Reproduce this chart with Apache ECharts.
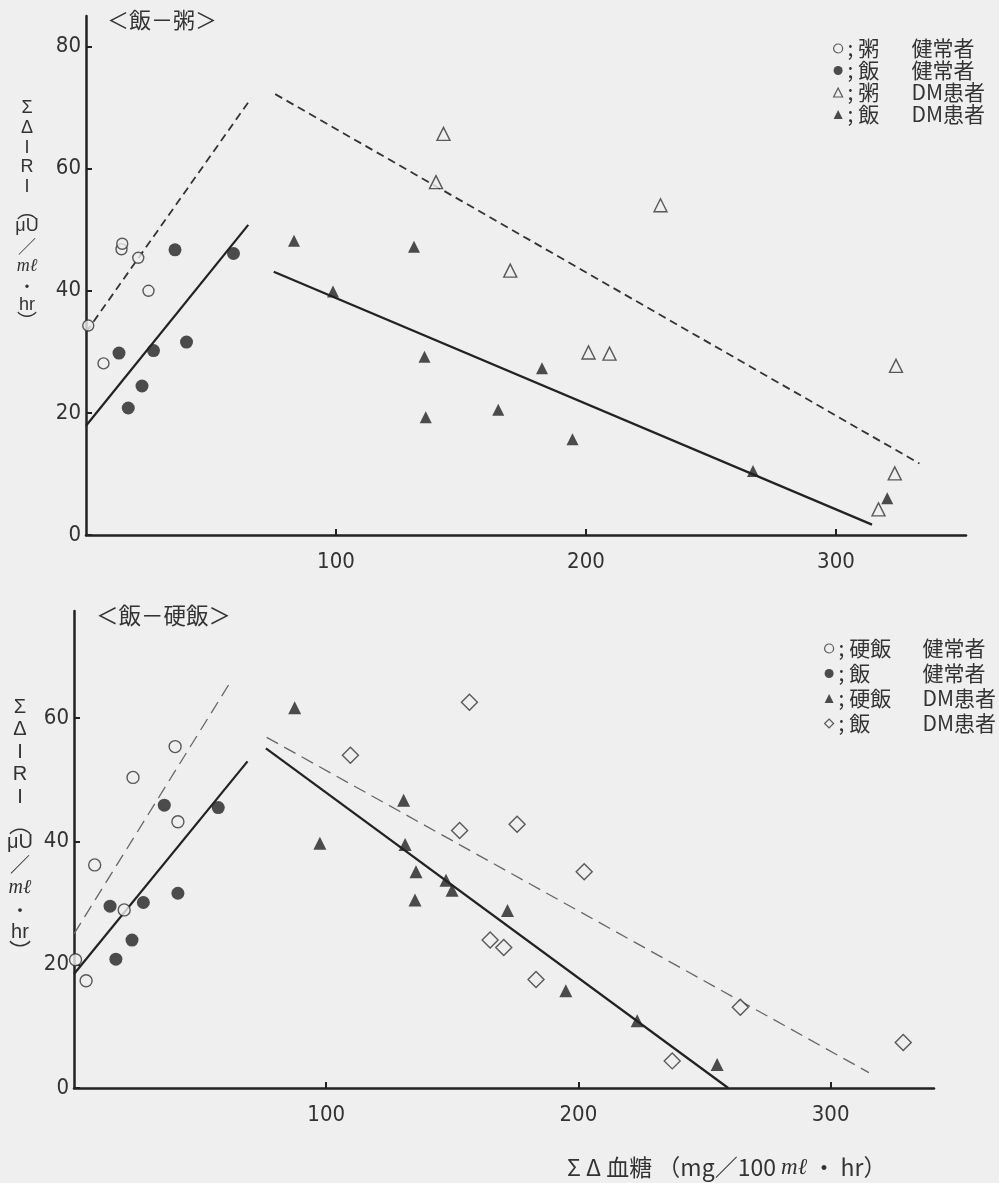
<!DOCTYPE html>
<html>
<head>
<meta charset="utf-8">
<script src="https://cdn.jsdelivr.net/npm/echarts@6/dist/echarts.min.js"></script>
<style>
html,body{margin:0;padding:0;background:#efefef;}
#c{width:999px;height:1183px;}
</style>
</head>
<body>
<div id="c"></div>
<script>
// ---------- tick labels ----------
const xTicks = [100, 200, 300];
const yTicksTop = [0, 20, 40, 60, 80];
const yTicksBottom = [0, 20, 40, 60];

// ---------- top panel <飯－粥> ----------
const topOkayuNormal = [[0.9,34.3],[7.0,28.1],[14.2,46.8],[14.5,47.7],[20.9,45.4],[25.0,40.0]];
const topRiceNormal = [[13.2,29.8],[16.9,20.8],[22.4,24.4],[27.0,30.2],[35.6,46.7],[40.2,31.6],[59.0,46.1]];
const topOkayuDM = [[143.0,65.7],[140.0,57.8],[229.8,54.0],[169.7,43.3],[201.0,29.9],[209.4,29.7],[324.0,27.7],[323.5,10.1],[317.0,4.2]];
const topRiceDM = [[83.2,48.2],[131.2,47.2],[98.8,39.9],[135.4,29.2],[182.4,27.3],[135.9,19.3],[164.9,20.5],[194.6,15.7],[266.8,10.5],[320.5,6.0]];
const topLineOkayuNormal = [[0,33.2],[66,71.5]];
const topLineRiceNormal = [[0,17.9],[64.9,50.8]];
const topLineOkayuDM = [[75.7,72.2],[333.4,11.7]];
const topLineRiceDM = [[75.1,43.1],[314.4,1.7]];

// ---------- bottom panel <飯－硬飯> ----------
const botHardNormal = [[0.6,20.8],[4.8,17.4],[8.2,36.2],[19.9,28.9],[23.4,50.4],[40.1,55.4],[41.2,43.2]];
const botRiceNormal = [[14.3,29.5],[16.6,20.9],[23.0,24.0],[27.5,30.1],[35.8,45.9],[41.2,31.6],[57.2,45.5]];
const botHardDM = [[87.5,61.7],[97.5,39.7],[130.7,46.7],[131.3,39.5],[135.6,35.1],[135.2,30.5],[147.5,33.7],[149.9,32.1],[171.9,28.8],[195.0,15.8],[223.3,10.9],[255.0,3.8]];
const botRiceDM = [[156.8,62.6],[109.6,54.0],[152.9,41.8],[175.7,42.8],[202.3,35.1],[165.0,24.0],[170.4,22.8],[183.2,17.6],[264.2,13.1],[237.2,4.4],[328.8,7.4]];
const botLineHardNormal = [[0,25.0],[62.2,66.0]];
const botLineRiceNormal = [[0,18.5],[68.8,53.0]];
const botLineRiceDM = [[76.4,56.9],[315.2,2.5]];
const botLineHardDM = [[76.1,55.1],[259.4,0]];

// ---------- legend texts ----------
const topLegendNames = ['t1','t2','t3','t4'];
const topLegendFood = ['; 粥', '; 飯', '; 粥', '; 飯'];
const topLegendGroup = ['健常者', '健常者', 'DM患者', 'DM患者'];
const botLegendNames = ['b1','b2','b3','b4'];
const botLegendFood = ['; 硬飯', '; 飯', '; 硬飯', '; 飯'];
const botLegendGroup = ['健常者', '健常者', 'DM患者', 'DM患者'];

// ---------- fonts ----------
function hasFont(f){
  const c = document.createElement('canvas').getContext('2d');
  c.font = '40px monospace';
  const w1 = c.measureText('0123456789abc').width;
  c.font = "40px '" + f + "', monospace";
  return c.measureText('0123456789abc').width !== w1;
}
let numFont = "'Liberation Sans', sans-serif", numSize = 22;
if (hasFont('Liberation Sans Narrow')) { numFont = 'Liberation Sans Narrow'; numSize = 25; }
else if (hasFont('DejaVu Sans Condensed')) { numFont = 'DejaVu Sans Condensed'; numSize = 22; }
const cjk = "'Noto Sans CJK JP', 'Noto Sans', sans-serif";
const latin = "'Liberation Sans', 'Noto Sans', sans-serif";

const BG = '#efefef', INK = '#222';

function xAxisCfg(gi, max){
  return {type:'value', gridIndex:gi, min:0, max:max,
    axisLine:{show:true, onZero:false, lineStyle:{color:INK, width:2.5}},
    axisTick:{show:true, inside:true, length:6, customValues:xTicks, lineStyle:{color:INK, width:2}},
    axisLabel:{customValues:xTicks, margin:16, color:'#333', fontFamily:numFont, fontSize:numSize},
    splitLine:{show:false}};
}
function yAxisCfg(gi, max, ticks){
  return {type:'value', gridIndex:gi, min:0, max:max,
    axisLine:{show:true, onZero:false, lineStyle:{color:INK, width:2.5}},
    axisTick:{show:true, inside:true, length:6, customValues:ticks, lineStyle:{color:INK, width:2}},
    axisLabel:{customValues:ticks, margin:5, color:'#333', fontFamily:numFont, fontSize:numSize},
    splitLine:{show:false}};
}
function sc(name, gi, data, symbol, size, filled){
  return {type:'scatter', name:name, xAxisIndex:gi, yAxisIndex:gi, data:data,
    symbol:symbol, symbolSize:size, z:5,
    itemStyle: filled ? {color:INK} : {color:BG, borderColor:'#333', borderWidth:1.4}};
}
function ln(gi, data, style){
  return {type:'line', xAxisIndex:gi, yAxisIndex:gi, data:data, symbol:'none', z:2, silent:true,
    lineStyle: Object.assign({color:INK, width:2.2, type:'solid'}, style||{})};
}
function legendCfg(names, food, group, left, top, aw, fs, lh, gap, icons){
  return {orient:'vertical', left:left, top:top, itemWidth:9, itemHeight:9, itemGap:gap,
    selectedMode:false,
    data: names.map((n,i)=>({name:n, icon:icons[i].icon, itemStyle:icons[i].style})),
    formatter: function(name){ const i = names.indexOf(name); return '{a|'+food[i]+'}{b|'+group[i]+'}'; },
    textStyle:{fontSize:fs, rich:{
      a:{width:aw, fontSize:fs, lineHeight:lh, fontFamily:cjk, color:'#333'},
      b:{fontSize:fs, lineHeight:lh, fontFamily:cjk, color:'#333'}}}};
}
const openSt = {color:BG, borderColor:'#333', borderWidth:1.2};
const fillSt = {color:INK, borderWidth:0};

// vertical y-axis title pieces; parentheses as vertical presentation forms
function yTitle(cx, y0, step, fs){
  const parts = ['Σ','Δ','I','R','I','︵','μU','／','mℓ','・','hr','︶'];
  return parts.map((t,i)=>{
    const cy = y0 + i*step;
    const paren = (t === '︵' || t === '︶');
    const italic = t === 'mℓ';
    return {type:'text', x:cx, y:cy + (t === '︵' ? 4 : (t === '︶' ? -4 : 0)),
      style:{text:t, align:'center', verticalAlign:'middle',
        fontSize: t==='・' ? fs-2 : (paren ? fs+2 : fs),
        fontStyle: italic ? 'italic' : 'normal',
        fontFamily: italic ? "'Liberation Serif', serif" : ((paren || t==='／' || t==='・') ? "'Noto Sans CJK JP'" : latin),
        fill:'#333'}};
  });
}

const chart = echarts.init(document.getElementById('c'), null, {renderer:'canvas'});
chart.setOption({
  backgroundColor: BG,
  animation:false,
  grid:[
    {left:86, top:16, width:880, height:519},
    {left:74, top:611, width:860, height:477}
  ],
  xAxis:[xAxisCfg(0, 352), xAxisCfg(1, 341)],
  yAxis:[yAxisCfg(0, 85, yTicksTop), yAxisCfg(1, 77.4, yTicksBottom)],
  legend:[
    legendCfg(topLegendNames, topLegendFood, topLegendGroup, 828, 33, 64, 21, 21, 1,
      [{icon:'circle',style:openSt},{icon:'circle',style:fillSt},{icon:'triangle',style:openSt},{icon:'triangle',style:fillSt}]),
    legendCfg(botLegendNames, botLegendFood, botLegendGroup, 819, 633, 84, 21, 23, 4,
      [{icon:'circle',style:openSt},{icon:'circle',style:fillSt},{icon:'triangle',style:fillSt},{icon:'diamond',style:openSt}])
  ],
  series:[
    ln(0, topLineOkayuNormal, {color:'#333', width:1.8, type:[8,5]}),
    ln(0, topLineRiceNormal),
    ln(0, topLineOkayuDM, {color:'#333', width:1.8, type:[8,5]}),
    ln(0, topLineRiceDM),
    sc('t1', 0, topOkayuNormal, 'circle', 11, false),
    sc('t2', 0, topRiceNormal, 'circle', 13, true),
    sc('t3', 0, topOkayuDM, 'triangle', 13, false),
    sc('t4', 0, topRiceDM, 'triangle', 12, true),

    ln(1, botLineHardNormal, {color:'#666', width:1.3, type:[13,7]}),
    ln(1, botLineRiceNormal),
    ln(1, botLineRiceDM, {color:'#666', width:1.3, type:[13,7]}),
    ln(1, botLineHardDM),
    sc('b1', 1, botHardNormal, 'circle', 12, false),
    sc('b2', 1, botRiceNormal, 'circle', 13, true),
    sc('b3', 1, botHardDM, 'triangle', 13, true),
    sc('b4', 1, botRiceDM, 'diamond', 16, false)
  ],
  graphic:[
    {type:'text', left:107, top:9, style:{text:'＜飯－粥＞', fontSize:22, fontFamily:cjk, fill:'#333'}},
    {type:'text', left:96, top:604, style:{text:'＜飯－硬飯＞', fontSize:22.5, fontFamily:cjk, fill:'#333'}},
    {type:'group', children: yTitle(27, 108.3, 19.7, 18)},
    {type:'group', children: yTitle(20, 707.3, 22.5, 20)},
    {type:'text', left:567, top:1156, style:{
      text:'Σ Δ 血糖 （mg／100 {it|mℓ} ・ hr）', fontSize:23, fontFamily:cjk, fill:'#333',
      rich:{it:{fontStyle:'italic', fontSize:23, fontFamily:"'Liberation Serif', serif"}}}}
  ]
});
</script>
</body>
</html>
